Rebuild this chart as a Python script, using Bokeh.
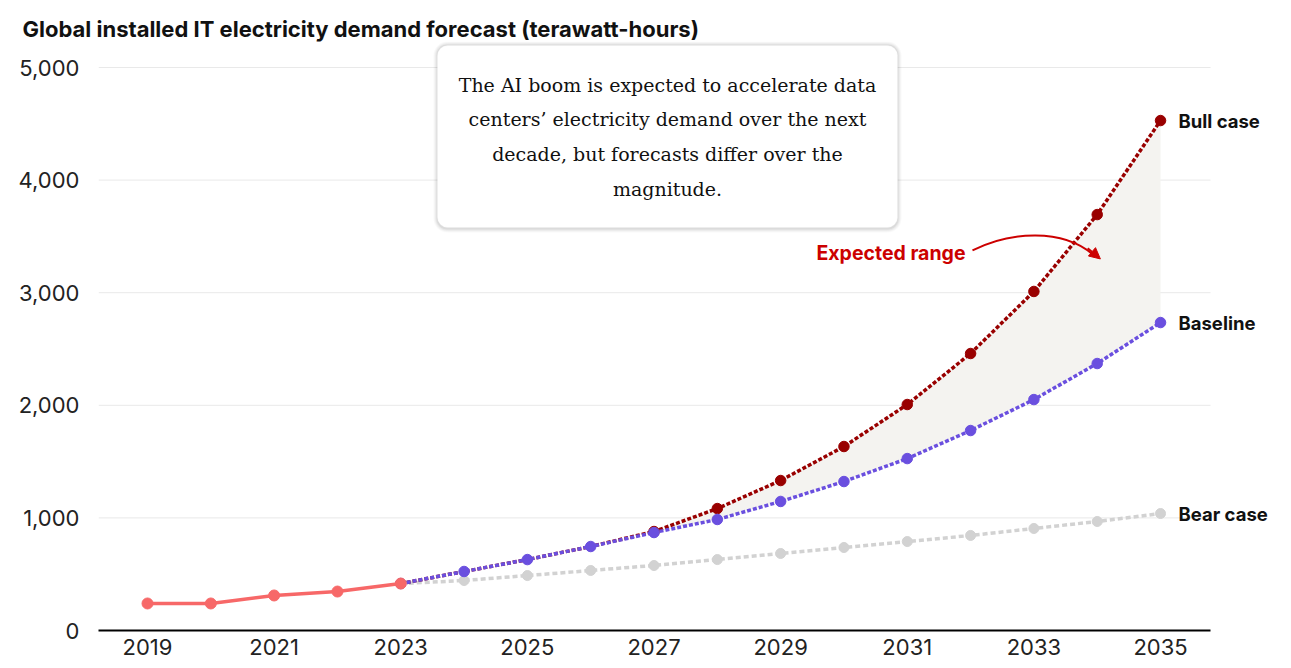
from bokeh.plotting import figure
from bokeh.models import (Range1d, Label, BoxAnnotation, NumeralTickFormatter, FixedTicker,
                          Arrow, NormalHead)
from bokeh.embed import file_html
from bokeh.resources import INLINE

# ---- data ----
hist_years = [2019, 2020, 2021, 2022, 2023]
hist_vals = [240, 240, 311, 346, 417]
fc_years = [2023, 2024, 2025, 2026, 2027, 2028, 2029, 2030, 2031, 2032, 2033, 2034, 2035]
baseline = [417, 524, 630, 746, 870, 986, 1146, 1323, 1527, 1776, 2051, 2371, 2735]
bull = [417, 524, 630, 746, 879, 1083, 1332, 1634, 2007, 2460, 3011, 3694, 4529]
bear = [417, 444, 488, 533, 577, 630, 684, 737, 790, 844, 906, 968, 1039]
x_ticks = [2019, 2021, 2023, 2025, 2027, 2029, 2031, 2033, 2035]
y_ticks = [0, 1000, 2000, 3000, 4000, 5000]
range_start = 2027

title_text = "Global installed IT electricity demand forecast (terawatt-hours)"
note_lines = ["The AI boom is expected to accelerate data",
              "centers\u2019 electricity demand over the next",
              "decade, but forecasts differ over the",
              "magnitude."]

C_HIST = "#f76868"
C_BULL = "#990000"
C_BASE = "#6a4fdf"
C_BEAR = "#d2d2d2"
C_FILL = "#f4f3f0"
C_RED = "#cc0000"

X0, X_AXIS_END, X1 = 2018.226, 2035.79, 2036.737

p = figure(width=1275, height=660, output_backend="svg", toolbar_location=None,
           x_range=Range1d(X0, X1), y_range=Range1d(0, 5231),
           min_border_left=98, min_border_right=5, min_border_top=41, min_border_bottom=30)
p.outline_line_color = None
p.background_fill_color = "white"

# title
p.title.text = title_text
p.title.text_font = "Inter"
p.title.text_font_style = "bold"
p.title.text_font_size = "22px"
p.title.text_color = "#111111"
p.title.align = "left"
p.title.offset = -76
p.title.standoff = 0

# axes
p.xaxis.ticker = FixedTicker(ticks=x_ticks)
p.yaxis.ticker = FixedTicker(ticks=y_ticks)
p.yaxis.formatter = NumeralTickFormatter(format="0,0")
for ax in (p.xaxis, p.yaxis):
    ax.major_tick_line_color = None
    ax.minor_tick_line_color = None
    ax.major_label_text_font = "Inter"
    ax.major_label_text_font_size = "22px"
    ax.major_label_text_color = "#222222"
p.yaxis.axis_line_color = None
p.yaxis.major_label_standoff = 13
p.xaxis.axis_line_color = "black"
p.xaxis.axis_line_width = 2
p.xaxis.major_label_standoff = 2
p.xaxis.bounds = (X0, X_AXIS_END)
p.xgrid.grid_line_color = None
p.ygrid.grid_line_color = None

# horizontal grid lines limited to the axis extent
grid_y = [t for t in y_ticks if t > 0]
p.segment(x0=[X0] * len(grid_y), x1=[X_AXIS_END] * len(grid_y), y0=grid_y, y1=grid_y,
          line_color="#e9e9e9", line_width=1)

# expected range fill
i0 = fc_years.index(range_start)
p.varea(x=fc_years[i0:], y1=baseline[i0:], y2=bull[i0:], fill_color=C_FILL)

# bear
p.line(fc_years, bear, line_color=C_BEAR, line_width=3.5, line_dash="5 3")
p.scatter(fc_years, bear, size=10, color=C_BEAR)
# bull
p.line(fc_years, bull, line_color=C_BULL, line_width=3.5, line_dash="4 2")
p.scatter(fc_years[i0:], bull[i0:], size=10.5, color=C_BULL)
# baseline
p.line(fc_years, baseline, line_color=C_BASE, line_width=3.5, line_dash="4 2")
p.scatter(fc_years, baseline, size=10.5, color=C_BASE)
# history
p.line(hist_years, hist_vals, line_color=C_HIST, line_width=3.5)
p.scatter(hist_years, hist_vals, size=11, color=C_HIST)

# end labels
for txt, yv in (("Bull case", bull[-1]), ("Baseline", baseline[-1]), ("Bear case", bear[-1])):
    p.add_layout(Label(x=fc_years[-1], y=yv, x_offset=18, text=txt, text_font="Inter",
                       text_font_style="bold", text_font_size="18.5px", text_color="#111111",
                       text_baseline="middle", text_align="left"))

# note box with soft shadow
bx0, bx1, by0, by1 = 2023.58, 2030.846, 3579, 5195
for k, a in ((4, 0.025), (3, 0.03), (2, 0.04), (1, 0.05)):
    dx = k * 0.0158
    dy = k * 8.88
    p.add_layout(BoxAnnotation(left=bx0 - dx, right=bx1 + dx, bottom=by0 - dy - 8.88, top=by1 + dy,
                               fill_color="black", fill_alpha=a, line_color=None,
                               border_radius=10 + k))
p.add_layout(BoxAnnotation(left=bx0, right=bx1, bottom=by0, top=by1, fill_color="white",
                           fill_alpha=1, line_color="#eeeeee", line_width=1, border_radius=10))
for i, ln in enumerate(note_lines):
    p.add_layout(Label(x=2027.213, y=4849 - i * 310, text=ln, text_font="DejaVu Serif",
                       text_font_size="19px", text_color="#111111",
                       text_align="center", text_baseline="middle"))

# expected range label + arrow
p.add_layout(Label(x=2031.92, y=3357, text="Expected range", text_font="Inter",
                   text_font_style="bold", text_font_size="19.5px", text_color=C_RED,
                   text_align="right", text_baseline="middle"))
p.bezier(x0=[2032.03], y0=[3375], x1=[2033.93], y1=[3340],
         cx0=[2032.63], cy0=[3545], cx1=[2033.45], cy1=[3570],
         line_color=C_RED, line_width=2)
p.add_layout(Arrow(x_start=2033.85, y_start=3395, x_end=2034.05, y_end=3300,
                   line_color=C_RED, line_width=2,
                   end=NormalHead(size=11, fill_color=C_RED, line_color=C_RED)))

open("out.html", "w").write(file_html(p, INLINE))
